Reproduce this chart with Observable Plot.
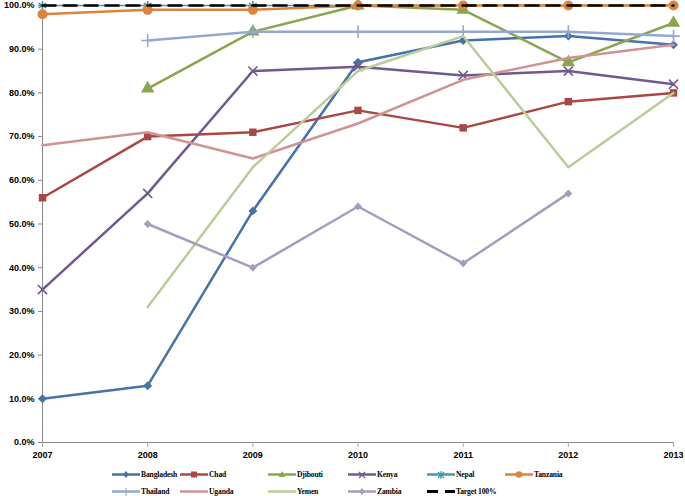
<!DOCTYPE html>
<html><head><meta charset="utf-8">
<script src="https://cdn.jsdelivr.net/npm/d3@7"></script>
<script src="https://cdn.jsdelivr.net/npm/@observablehq/plot@0.6"></script>
<style>
body{margin:0;background:#fff}
#wrap{position:relative;width:685px;height:496px;overflow:hidden}
.leg{position:absolute;display:flex;align-items:center;font-family:"Liberation Serif",serif;font-weight:bold;font-size:7.6px;letter-spacing:-0.15px;color:#000;white-space:nowrap}
.leg svg{margin-right:1px}
</style>
</head><body><div id="wrap"></div>
<script>
const years = [2007, 2008, 2009, 2010, 2011, 2012, 2013];
const bangladesh = [10, 13, 53, 87, 92, 93, 91];
const chad       = [56, 70, 71, 76, 72, 78, 80];
const djibouti   = [null, 81, 94, 100, 99, 87, 96];
const kenya      = [35, 57, 85, 86, 84, 85, 82];
const nepal      = [100, 100, 100, 100, 100, 100, 100];
const tanzania   = [98, 99, 99, 100, 100, 100, 100];
const thailand   = [null, 92, 94, 94, 94, 94, 93];
const uganda     = [68, 71, 65, 73, 83, 88, 91];
const yemen      = [null, 31, 63, 85, 93, 63, 80];
const zambia     = [null, 50, 40, 54, 41, 57, null];
const target     = [100, 100, 100, 100, 100, 100, 100];
const yTicks = [0, 10, 20, 30, 40, 50, 60, 70, 80, 90, 100];

const seriesNames = ["Bangladesh","Chad","Djibouti","Kenya","Nepal","Tanzania","Thailand","Uganda","Yemen","Zambia","Target 100%"];
const seriesValues = [bangladesh, chad, djibouti, kenya, nepal, tanzania, thailand, uganda, yemen, zambia, target];
const colors = ["#4572A7","#AA4643","#89A54E","#71588F","#4198AF","#DB843D","#93A9CF","#D19392","#B9CD96","#A99BBD","#000000"];
const symbols = ["diamond2","square","triangle","times","asterisk","circle","plus",null,null,"diamond2",null];

const series = seriesNames.map((name, i) => ({
  name, color: colors[i], symbol: symbols[i],
  data: years.map((year, j) => ({year, value: seriesValues[i][j]})).filter(d => d.value != null)
}));

const marks = [
  Plot.ruleX([2007], {stroke: "#888", strokeWidth: 1}),
  Plot.ruleY([0], {stroke: "#888", strokeWidth: 1}),
  Plot.axisY({ticks: yTicks, tickFormat: d => d.toFixed(1) + "%", tickSize: 4, tickPadding: 4, stroke: "#888", label: null}),
  Plot.axisX({ticks: years, tickFormat: d => String(d), tickSize: 5, tickPadding: 4, stroke: "#aaa", label: null})
];
const fillSyms = new Set(["diamond2","square","triangle","circle"]);
for (const s of series) {
  const isTarget = s.name.startsWith("Target");
  marks.push(Plot.line(s.data, {
    x: "year", y: "value", stroke: s.color,
    strokeWidth: isTarget ? 2.6 : (s.name === "Nepal" ? 1.6 : 2.5),
    strokeDasharray: isTarget ? "13,8" : null,
    strokeLinejoin: "round"
  }));
  if (s.symbol) {
    const filled = fillSyms.has(s.symbol);
    marks.push(Plot.dot(s.data, {
      x: "year", y: "value", symbol: () => s.symbol,
      r: s.symbol === "circle" ? 5 : s.symbol === "triangle" ? 5 : s.symbol === "diamond2" ? (s.name === "Zambia" ? 3.6 : 4) : 4.2,
      fill: filled ? s.color : "none",
      stroke: filled ? "none" : s.color, strokeWidth: filled ? 0 : 1.6
    }));
  }
}

const chart = Plot.plot({
  width: 685, height: 462,
  marginLeft: 42, marginRight: 12, marginTop: 5, marginBottom: 20,
  x: {domain: [2007, 2013]},
  y: {domain: [0, 100]},
  symbol: {type: "identity"},
  style: {fontFamily: "'Liberation Sans', sans-serif", fontSize: "9px", fontWeight: "bold", color: "#000", background: "#fff"},
  marks
});
chart.style.position = "absolute";
chart.style.left = "0px";
chart.style.top = "0px";
const wrap = document.getElementById("wrap");
wrap.appendChild(chart);

const legPos = [[112,475],[180,475],[268,475],[348,475],[427,475],[505,475],[112,492],[180,492],[268,492],[348,492],[427,492]];
function symbolSvg(sym, color) {
  switch (sym) {
    case "diamond2": return `<path d="M14,1 L17,4.5 L14,8 L11,4.5Z" fill="${color}"/>`;
    case "square": return `<rect x="11" y="1.5" width="6" height="6" fill="${color}"/>`;
    case "triangle": return `<path d="M14,1 L17.5,7 L10.5,7Z" fill="${color}"/>`;
    case "times": return `<path d="M11,2 L17,8 M17,2 L11,8" stroke="${color}" stroke-width="1.2"/>`;
    case "asterisk": return `<path d="M11,2 L17,8 M17,2 L11,8 M14,1 L14,9" stroke="${color}" stroke-width="1.2"/>`;
    case "circle": return `<circle cx="14" cy="4.5" r="3.3" fill="${color}"/>`;
    case "plus": return `<path d="M14,1 L14,9" stroke="${color}" stroke-width="1.2"/>`;
    default: return "";
  }
}
series.forEach((s, i) => {
  const [x, y] = legPos[i];
  const isTarget = s.name.startsWith("Target");
  const line = isTarget
    ? `<line x1="0" y1="4.5" x2="11" y2="4.5" stroke="#000" stroke-width="3"/><line x1="18" y1="4.5" x2="28" y2="4.5" stroke="#000" stroke-width="3"/>`
    : `<line x1="0" y1="4.5" x2="28" y2="4.5" stroke="${s.color}" stroke-width="2.5"/>` + symbolSvg(s.symbol, s.color);
  const div = document.createElement("div");
  div.className = "leg";
  div.style.left = x + "px";
  div.style.top = (y - 5) + "px";
  div.innerHTML = `<svg width="28" height="9">${line}</svg><span>${s.name}</span>`;
  wrap.appendChild(div);
});
</script>
</body></html>
